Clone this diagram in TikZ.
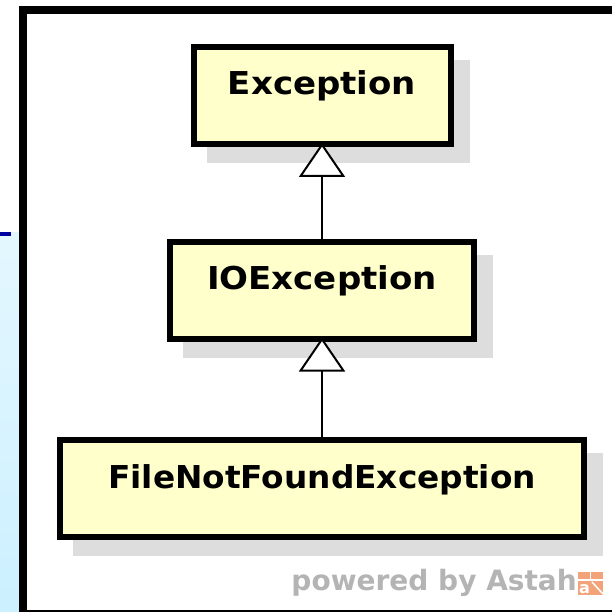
\documentclass[tikz,border=0pt]{standalone}
\usepackage{fontspec}
\newfontfamily\umlfont{DejaVu Sans}
\usetikzlibrary{arrows.meta}

\definecolor{classfill}{HTML}{FFFFCC}
\definecolor{shadowgray}{HTML}{DDDDDD}
\definecolor{stripbot}{HTML}{CCF0FF}
\definecolor{striptop}{HTML}{E4F7FF}
\definecolor{markblue}{HTML}{0000A0}
\definecolor{creditgray}{HTML}{B4B4B4}
\definecolor{logoorange}{HTML}{F2A37A}

\tikzset{
  classbox/.style={
    draw=black, line width=6pt, fill=classfill,
    minimum height=97pt, inner sep=0pt,
    text height=48pt, text depth=49pt,
    font=\umlfont\bfseries\fontsize{31.5}{36}\selectfont,
    preaction={draw=shadowgray, fill=shadowgray,
      transform canvas={shift={(16,16)}}}
  },
  generalization/.style={
    line width=2pt, shorten >=-4pt,
    -{Triangle[open, fill=white, length=34pt, width=46pt, line width=2pt]}
  },
  credit/.style={
    text=creditgray, inner sep=0pt,
    font=\umlfont\bfseries\fontsize{28}{32}\selectfont
  }
}

\begin{document}
\begin{tikzpicture}[x=1pt, y=-1pt]
  \useasboundingbox (0,0) rectangle (612,612);
  \clip (0,0) rectangle (612,612);
  \fill[white] (0,0) rectangle (612,612);

  % side strip with its blue marker
  \shade[top color=striptop, bottom color=stripbot] (0,232) rectangle (19,612);
  \fill[markblue] (0,232) rectangle (11,236);

  % diagram frame
  \draw[line width=8pt] (23,10) rectangle (640,614);

  % classes
  \node[classbox, minimum width=257pt] (exc) at (322,95.5)
    {\scalebox{1.08}[1]{Exception}};
  \node[classbox, minimum width=304pt] (ioe) at (322,290)
    {\scalebox{1.08}[1]{IOException}};
  \node[classbox, minimum width=524pt] (fnf) at (322,488.5)
    {\scalebox{1.04}[1]{FileNotFoundException}};

  % inheritance
  \draw[generalization] (ioe.north) -- (exc.south);
  \draw[generalization] (fnf.north) -- (ioe.south);

  % tool credit and logo
  \node[credit, anchor=base east] (credit) at (577,590) {powered by Astah};
  \node[fill=logoorange, minimum width=25pt, minimum height=23pt, inner sep=0pt,
        anchor=north west] (logo) at (578,572) {};
  \draw[white, line width=1.2pt] (logo.north west) ++(0,8) -- ++(25,0);
  \draw[white, line width=1.2pt] (logo.north) -- ++(0,8);
  \node[text=white, inner sep=0pt, anchor=base,
        font=\umlfont\bfseries\fontsize{16}{18}\selectfont] (logoa) at (584.5,593) {a};
  \draw[white, line width=1.5pt] (592,582) -- (603,594);
\end{tikzpicture}
\end{document}
